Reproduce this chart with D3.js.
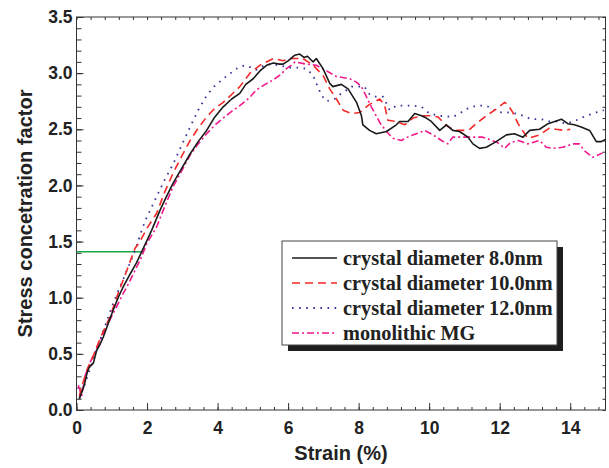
<!DOCTYPE html>
<html>
<head>
<meta charset="utf-8">
<script src="https://cdn.jsdelivr.net/npm/d3@7"></script>
<style>
  body { margin: 0; background: #fff; }
  svg { display: block; }
</style>
</head>
<body>
<svg id="chart" width="609" height="468"></svg>
<script>
// strain (%) / stress concentration factor pairs
const d8 = [[0.08,0.10],[0.15,0.16],[0.22,0.22],[0.3,0.33],[0.36,0.38],[0.48,0.42],[0.57,0.53],[0.66,0.58],[0.76,0.65],[0.9,0.77],[1.04,0.89],[1.18,1.0],[1.33,1.10],[1.5,1.2],[1.7,1.31],[1.85,1.41],[2.0,1.51],[2.13,1.60],[2.37,1.78],[2.55,1.9],[2.74,2.02],[3.0,2.16],[3.22,2.28],[3.45,2.39],[3.69,2.49],[3.9,2.60],[4.16,2.70],[4.4,2.77],[4.63,2.82],[4.8,2.90],[5.01,2.95],[5.2,3.02],[5.39,3.07],[5.58,3.09],[5.75,3.08],[5.86,3.08],[6.0,3.11],[6.19,3.16],[6.33,3.17],[6.45,3.14],[6.55,3.15],[6.61,3.13],[6.71,3.10],[6.8,3.13],[6.99,3.04],[7.18,2.91],[7.27,2.88],[7.51,2.90],[7.7,2.86],[7.94,2.74],[8.08,2.62],[8.12,2.54],[8.31,2.49],[8.5,2.46],[8.79,2.48],[9.07,2.54],[9.16,2.57],[9.4,2.57],[9.59,2.64],[9.78,2.62],[9.92,2.60],[10.06,2.57],[10.3,2.49],[10.49,2.54],[10.67,2.49],[10.86,2.48],[11.1,2.43],[11.24,2.37],[11.43,2.33],[11.62,2.34],[11.9,2.39],[12.19,2.45],[12.42,2.46],[12.66,2.43],[12.85,2.49],[13.13,2.50],[13.37,2.55],[13.56,2.57],[13.75,2.59],[13.93,2.55],[14.12,2.54],[14.31,2.52],[14.55,2.49],[14.74,2.39],[14.88,2.39],[15.0,2.41]];
const d10 = [[0.08,0.12],[0.15,0.21],[0.3,0.36],[0.5,0.5],[0.7,0.66],[0.95,0.83],[1.18,1.04],[1.4,1.22],[1.66,1.44],[1.8,1.50],[2.0,1.62],[2.27,1.75],[2.5,1.94],[2.74,2.11],[3.0,2.27],[3.22,2.40],[3.45,2.51],[3.69,2.61],[3.9,2.68],[4.16,2.74],[4.4,2.81],[4.63,2.88],[4.92,3.0],[5.2,3.07],[5.58,3.13],[5.86,3.11],[6.05,3.13],[6.42,3.13],[6.71,3.07],[6.99,2.98],[7.18,2.86],[7.37,2.77],[7.56,2.67],[7.8,2.64],[8.03,2.65],[8.3,2.72],[8.6,2.77],[8.74,2.71],[8.83,2.58],[9.07,2.57],[9.31,2.54],[9.54,2.60],[9.8,2.62],[10.06,2.62],[10.25,2.61],[10.5,2.53],[10.72,2.49],[11.0,2.49],[11.15,2.50],[11.33,2.55],[11.62,2.62],[11.9,2.68],[12.14,2.74],[12.23,2.72],[12.37,2.65],[12.52,2.55],[12.71,2.46],[12.8,2.42],[13.13,2.45],[13.41,2.51],[13.6,2.50],[13.84,2.49],[14.0,2.50]];
const d12 = [[0.08,0.10],[0.2,0.2],[0.4,0.38],[0.7,0.65],[1.04,0.95],[1.37,1.20],[1.66,1.42],[1.85,1.60],[1.94,1.68],[2.27,1.90],[2.5,2.05],[2.74,2.19],[3.0,2.37],[3.22,2.52],[3.45,2.67],[3.69,2.80],[3.9,2.88],[4.16,2.95],[4.54,3.04],[4.77,3.07],[4.96,3.05],[5.1,3.03],[5.39,3.08],[5.76,3.07],[6.0,3.05],[6.24,3.05],[6.52,3.04],[6.71,2.98],[6.8,2.91],[6.95,2.80],[7.09,2.75],[7.32,2.77],[7.42,2.80],[7.8,2.88],[8.17,2.88],[8.27,2.82],[8.46,2.79],[8.69,2.79],[8.79,2.73],[8.88,2.67],[9.07,2.71],[9.54,2.71],[9.78,2.70],[10.01,2.64],[10.3,2.62],[10.67,2.61],[10.86,2.64],[11.05,2.68],[11.33,2.71],[11.62,2.71],[11.86,2.67],[12.05,2.65],[12.23,2.65],[12.47,2.64],[12.66,2.62],[12.9,2.59],[13.18,2.59],[13.41,2.57],[13.6,2.57],[13.89,2.55],[14.17,2.58],[14.45,2.62],[14.74,2.65],[14.95,2.67]];
const dMG = [[0.05,0.22],[0.15,0.13],[0.24,0.30],[0.38,0.42],[0.5,0.5],[0.67,0.62],[0.85,0.74],[1.04,0.86],[1.33,1.04],[1.5,1.14],[1.7,1.27],[1.8,1.33],[1.99,1.48],[2.27,1.63],[2.5,1.81],[2.74,1.99],[3.0,2.14],[3.22,2.27],[3.45,2.37],[3.69,2.46],[3.9,2.53],[4.16,2.60],[4.4,2.66],[4.63,2.71],[4.9,2.78],[5.1,2.85],[5.35,2.90],[5.58,2.94],[5.8,2.99],[5.95,3.04],[6.14,3.08],[6.19,3.10],[6.52,3.08],[6.8,3.07],[7.09,3.02],[7.37,2.97],[7.75,2.95],[7.94,2.92],[8.08,2.88],[8.22,2.79],[8.36,2.70],[8.6,2.56],[8.79,2.48],[8.97,2.42],[9.21,2.40],[9.45,2.44],[9.73,2.47],[9.87,2.49],[10.11,2.45],[10.35,2.40],[10.53,2.37],[10.67,2.43],[10.96,2.43],[11.24,2.43],[11.52,2.43],[11.71,2.41],[11.95,2.38],[12.14,2.33],[12.3,2.38],[12.52,2.40],[12.8,2.37],[13.13,2.40],[13.32,2.34],[13.51,2.33],[13.79,2.34],[14.07,2.37],[14.26,2.37],[14.4,2.31],[14.64,2.25],[14.92,2.29]];

// horizontal green marker line
const markerY = 1.41;
const markerX = [0, 1.87];

const seriesNames = ["crystal diameter 8.0nm", "crystal diameter 10.0nm", "crystal diameter 12.0nm", "monolithic MG"];
const xTicks = [0, 2, 4, 6, 8, 10, 12, 14];
const yTicks = [0.0, 0.5, 1.0, 1.5, 2.0, 2.5, 3.0, 3.5];

const margin = { top: 17, right: 3.5, bottom: 58, left: 76.5 };
const width = 609, height = 468;
const innerW = width - margin.left - margin.right;
const innerH = height - margin.top - margin.bottom;

const svg = d3.select("#chart");
const g = svg.append("g").attr("transform", `translate(${margin.left},${margin.top})`);

const x = d3.scaleLinear().domain([0, 15]).range([0, innerW]);
const y = d3.scaleLinear().domain([0, 3.5]).range([innerH, 0]);

const axisColor = "#333";
const tickFont = "'Liberation Sans', Arial, sans-serif";

// minor ticks (inward, all four sides)
const xMinor = d3.range(0, 15.01, 0.4).filter(v => v <= 15);
const yMinor = d3.range(0, 3.501, 0.1);

function styleAxis(sel) {
  sel.select(".domain").remove();
  sel.selectAll("line").attr("stroke", axisColor).attr("stroke-width", 1);
}

g.append("g").attr("transform", `translate(0,${innerH})`)
  .call(d3.axisBottom(x).tickValues(xMinor).tickSize(-3).tickFormat(""))
  .call(styleAxis);
g.append("g")
  .call(d3.axisTop(x).tickValues(xMinor).tickSize(-3).tickFormat(""))
  .call(styleAxis);
g.append("g")
  .call(d3.axisLeft(y).tickValues(yMinor).tickSize(-5).tickFormat(""))
  .call(styleAxis);
g.append("g").attr("transform", `translate(${innerW},0)`)
  .call(d3.axisRight(y).tickValues(yMinor).tickSize(-3).tickFormat(""))
  .call(styleAxis);

// major ticks with labels
const xAxis = g.append("g").attr("transform", `translate(0,${innerH})`)
  .call(d3.axisBottom(x).tickValues(xTicks).tickSize(-7).tickPadding(12).tickFormat(d3.format("d")));
xAxis.call(styleAxis);
xAxis.selectAll("text").attr("fill", "#222").attr("font-family", tickFont)
  .attr("font-weight", "bold").attr("font-size", 17.5);

const yAxis = g.append("g")
  .call(d3.axisLeft(y).tickValues(yTicks).tickSize(-7).tickPadding(11).tickFormat(d3.format(".1f")));
yAxis.call(styleAxis);
yAxis.selectAll("text").attr("fill", "#222").attr("font-family", tickFont)
  .attr("font-weight", "bold").attr("font-size", 17.5).attr("x", -4);

// frame
g.append("rect").attr("width", innerW).attr("height", innerH)
  .attr("fill", "none").attr("stroke", axisColor).attr("stroke-width", 1);

// green marker
g.append("line")
  .attr("x1", x(markerX[0])).attr("x2", x(markerX[1]))
  .attr("y1", y(markerY)).attr("y2", y(markerY))
  .attr("stroke", "#1aa542").attr("stroke-width", 1.6);

const line = d3.line().x(d => x(d[0])).y(d => y(d[1]));

const styles = [
  { data: d8,  color: "#1a1a1a", dash: null,      w: 1.6 },
  { data: d10, color: "#f42a2a", dash: "8,5",     w: 1.6 },
  { data: d12, color: "#33339a", dash: "1.6,5.5", w: 1.8 },
  { data: dMG, color: "#f0198c", dash: "7,3,2,3", w: 1.6 }
];

// draw magenta, blue, red, then black on top
[3, 2, 1, 0].forEach(i => {
  const s = styles[i];
  g.append("path").datum(s.data)
    .attr("d", line)
    .attr("fill", "none")
    .attr("stroke", s.color)
    .attr("stroke-width", s.w)
    .attr("stroke-linejoin", "round")
    .attr("stroke-dasharray", s.dash);
});

// axis titles
svg.append("text")
  .attr("x", margin.left + innerW / 2).attr("y", 460)
  .attr("text-anchor", "middle")
  .attr("font-family", tickFont).attr("font-weight", "bold").attr("font-size", 20)
  .attr("fill", "#222")
  .text("Strain (%)");

svg.append("text")
  .attr("transform", `translate(32,${margin.top + innerH / 2}) rotate(-90)`)
  .attr("text-anchor", "middle")
  .attr("font-family", tickFont).attr("font-weight", "bold").attr("font-size", 20)
  .attr("fill", "#222")
  .text("Stress concetration factor");

// legend
const lg = svg.append("g").attr("transform", "translate(282,241)");
const lgW = 275, lgH = 104;
lg.append("rect").attr("x", 6).attr("y", 6).attr("width", lgW).attr("height", lgH).attr("fill", "#1e1e1e");
lg.append("rect").attr("width", lgW).attr("height", lgH).attr("fill", "#fff")
  .attr("stroke", "#444").attr("stroke-width", 1);

seriesNames.forEach((name, i) => {
  const s = styles[i];
  const cy = 17 + i * 25;
  lg.append("line").attr("x1", 10).attr("x2", 55).attr("y1", cy).attr("y2", cy)
    .attr("stroke", s.color).attr("stroke-width", s.w).attr("stroke-dasharray", s.dash);
  lg.append("text").attr("x", 61).attr("y", cy + 7)
    .attr("font-family", "'Liberation Serif', 'Times New Roman', serif")
    .attr("font-weight", "bold").attr("font-size", 20.3).attr("fill", "#222")
    .text(name);
});
</script>
</body>
</html>
